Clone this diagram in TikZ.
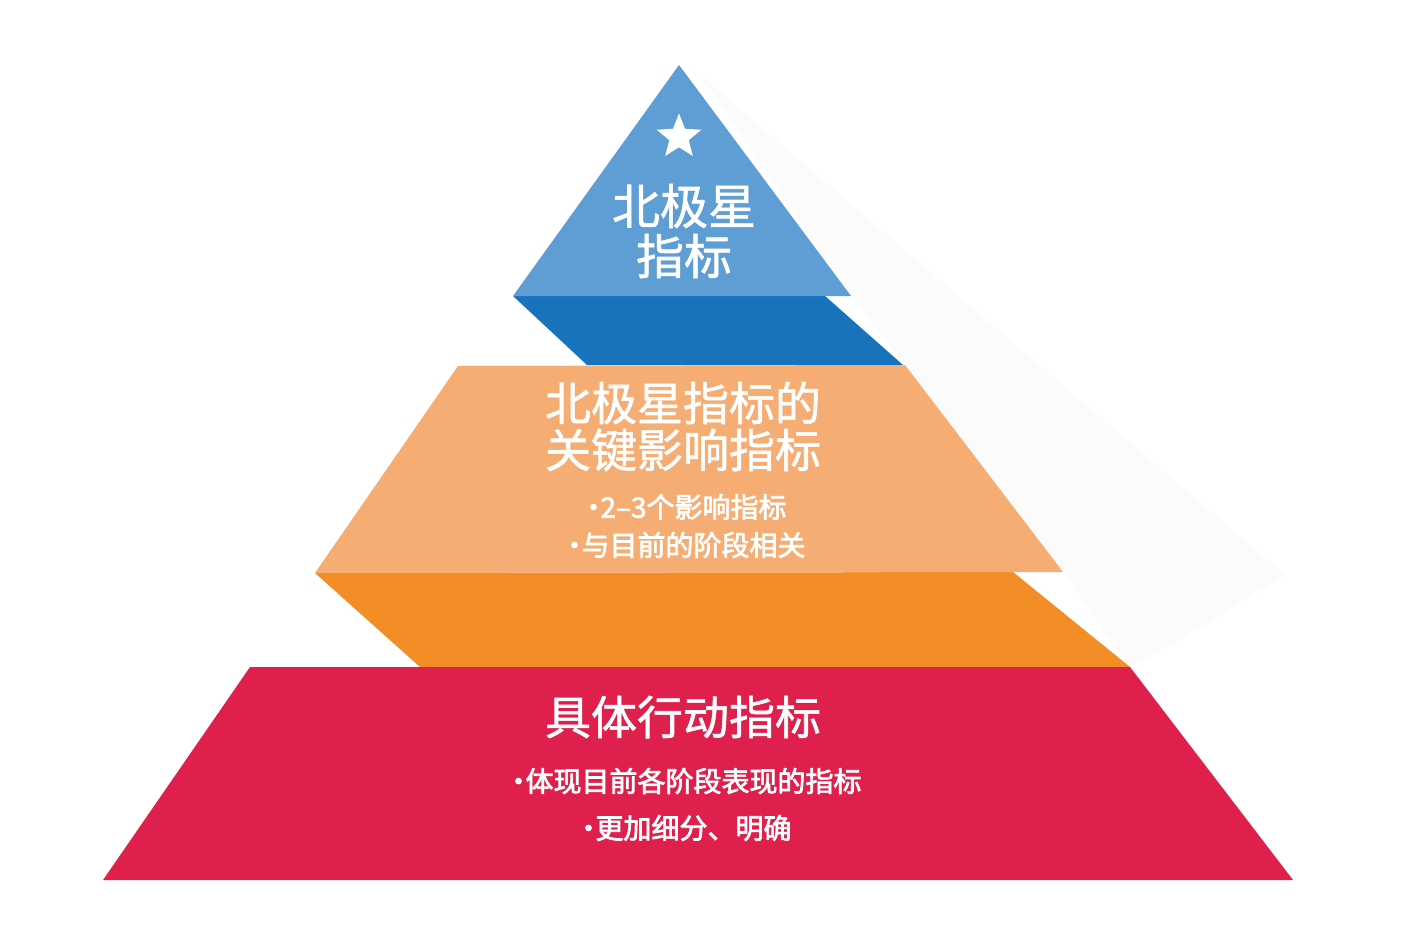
\documentclass[tikz,border=0pt]{standalone}
\usepackage{fontspec}
\setmainfont{Noto Sans CJK SC}
\newfontfamily\medcjk[FakeBold=2.5]{Noto Sans CJK SC}
\newfontfamily\titlecjk[FakeBold=1.2]{Noto Sans CJK SC}
\usetikzlibrary{shapes.geometric}
\definecolor{lblue}{RGB}{95,158,212}
\definecolor{dblue}{RGB}{22,115,188}
\definecolor{lorange}{RGB}{245,173,115}
\definecolor{dorange}{RGB}{243,142,38}
\definecolor{crim}{RGB}{224,32,76}
\definecolor{faintgrey}{RGB}{251,251,251}
\begin{document}
\begin{tikzpicture}[x=1pt,y=-1pt,
  title/.style={text=white,font=\titlecjk\fontsize{46}{46}\selectfont,inner sep=0pt},
  toptitle/.style={text=white,font=\titlecjk\fontsize{48}{48}\selectfont,inner sep=0pt},
  bullet/.style={text=white,font=\medcjk\fontsize{28}{28}\selectfont,inner sep=0pt}]
\useasboundingbox (0,0) rectangle (1426,931);
\fill[white] (0,0) rectangle (1426,931);
% faint shadow
\fill[faintgrey] (700,75) -- (1285,575) -- (1180,640) -- (1130,667) -- (1063,572) -- (905,365) -- (851,296) -- cycle;
% side bands
\fill[dblue] (513,296) -- (825,296) -- (903,365) -- (587,365) -- cycle;
\fill[dorange] (315,573) -- (1013,572) -- (1130,667) -- (420,667) -- cycle;
% faces
\fill[lblue] (679,65) -- (851,296) -- (513,296) -- cycle;
\fill[lorange] (458,366) -- (905,365) -- (1063,572) -- (315,573) -- cycle;
\fill[crim] (250,667) -- (1130,667) -- (1293,880) -- (103,880) -- cycle;
% star
\node[star, star points=5, star point ratio=2.3, fill=white, minimum size=47pt, inner sep=0pt] (star) at (679,137) {};
% texts
\node[toptitle] (t1a) at (684,206) {北极星};
\node[toptitle] (t1b) at (684,256) {指标};
\node[title] (t2a) at (683,403) {北极星指标的};
\node[title] (t2b) at (683,450) {关键影响指标};
\node[bullet] (b2a) at (683,507) {·\kern-7pt 2–3个影响指标};
\node[bullet] (b2b) at (683,545) {·\kern-7pt 与目前的阶段相关};
\node[title] (t3) at (683,717) {具体行动指标};
\node[bullet] (b3a) at (683,781) {·\kern-7pt 体现目前各阶段表现的指标};
\node[bullet] (b3b) at (683,828) {·\kern-7pt 更加细分、明确};
\end{tikzpicture}
\end{document}
